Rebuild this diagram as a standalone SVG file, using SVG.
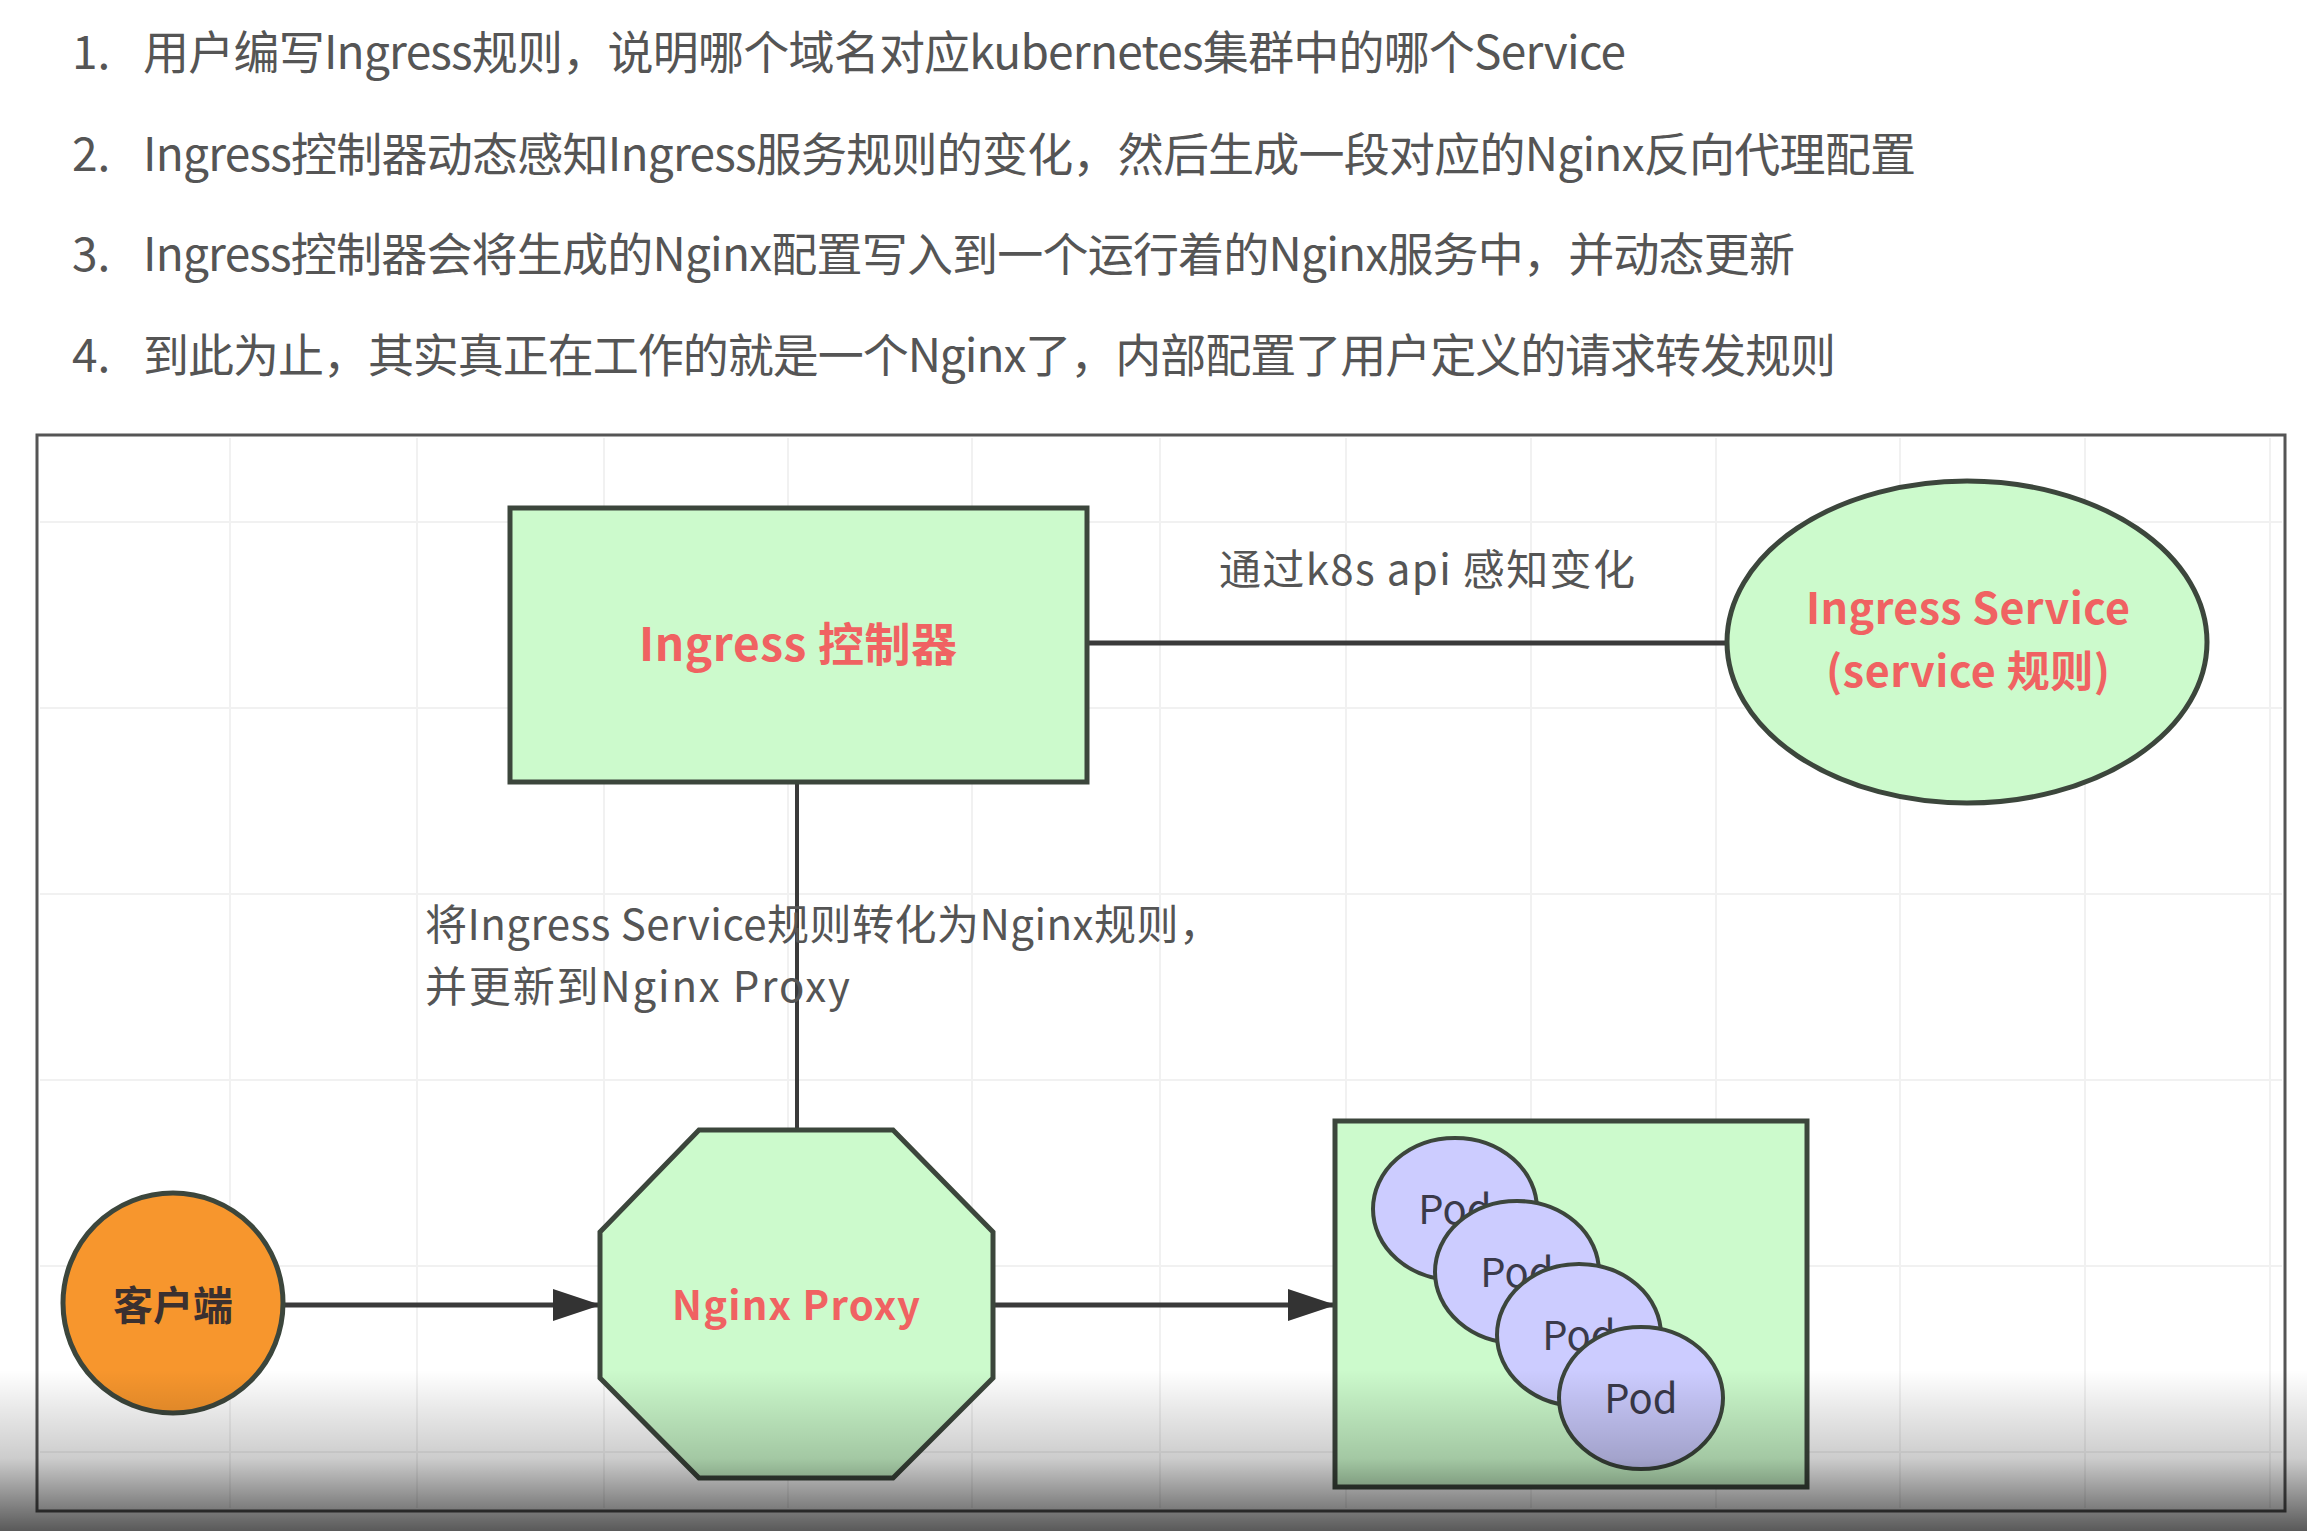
<svg xmlns="http://www.w3.org/2000/svg" width="2307" height="1531" viewBox="0 0 2307 1531">
<style>
.list{font-family:"Noto Sans CJK SC","Noto Sans",sans-serif;font-size:46px;fill:#555555}
.lbl{font-family:"Noto Sans CJK SC","Noto Sans",sans-serif;font-size:42px;fill:#555555}
.red{font-family:"Noto Sans CJK SC","Noto Sans",sans-serif;font-weight:bold;fill:#f06262;text-anchor:middle}
.node{stroke:#3c463c;stroke-width:5}
.green{fill:#ccfacc}
.pod{fill:#ccccff;stroke:#3c463c;stroke-width:4}
.podt{font-family:"Noto Sans CJK SC","Noto Sans",sans-serif;font-size:40px;fill:#3a3a4a;text-anchor:middle}
.grid{stroke:#f1f1f1;stroke-width:2}
.conn{stroke:#3a3a3a;fill:none}
</style>
<defs>
<marker id="arr" markerUnits="userSpaceOnUse" markerWidth="48" markerHeight="32" refX="46" refY="16" orient="auto">
<path d="M0,0 L48,16 L0,32 Z" fill="#333333"/>
</marker>
<linearGradient id="shade" x1="0" y1="0" x2="0" y2="1">
<stop offset="0" stop-color="#000" stop-opacity="0"/>
<stop offset="0.55" stop-color="#000" stop-opacity="0.2"/>
<stop offset="1" stop-color="#000" stop-opacity="0.65"/>
</linearGradient>
</defs>
<rect width="2307" height="1531" fill="#ffffff"/>

<g id="steps">
<text class="list" x="72" y="69">1.</text>
<text class="list" x="143" y="69" textLength="1483">用户编写Ingress规则，说明哪个域名对应kubernetes集群中的哪个Service</text>
<text class="list" x="72" y="171">2.</text>
<text class="list" x="143" y="171" textLength="1773">Ingress控制器动态感知Ingress服务规则的变化，然后生成一段对应的Nginx反向代理配置</text>
<text class="list" x="72" y="271">3.</text>
<text class="list" x="143" y="271" textLength="1652">Ingress控制器会将生成的Nginx配置写入到一个运行着的Nginx服务中，并动态更新</text>
<text class="list" x="72" y="372">4.</text>
<text class="list" x="143" y="372" textLength="1693">到此为止，其实真正在工作的就是一个Nginx了，内部配置了用户定义的请求转发规则</text>
</g>

<g id="frame">
<rect x="37" y="435" width="2248" height="1076" fill="#ffffff" stroke="#555555" stroke-width="3"/>
<g class="grid">
<line x1="230" y1="438" x2="230" y2="1508"/>
<line x1="417" y1="438" x2="417" y2="1508"/>
<line x1="604" y1="438" x2="604" y2="1508"/>
<line x1="788" y1="438" x2="788" y2="1508"/>
<line x1="972" y1="438" x2="972" y2="1508"/>
<line x1="1160" y1="438" x2="1160" y2="1508"/>
<line x1="1346" y1="438" x2="1346" y2="1508"/>
<line x1="1531" y1="438" x2="1531" y2="1508"/>
<line x1="1716" y1="438" x2="1716" y2="1508"/>
<line x1="1900" y1="438" x2="1900" y2="1508"/>
<line x1="2085" y1="438" x2="2085" y2="1508"/>
<line x1="2270" y1="438" x2="2270" y2="1508"/>
<line x1="40" y1="522" x2="2282" y2="522"/>
<line x1="40" y1="708" x2="2282" y2="708"/>
<line x1="40" y1="894" x2="2282" y2="894"/>
<line x1="40" y1="1080" x2="2282" y2="1080"/>
<line x1="40" y1="1266" x2="2282" y2="1266"/>
<line x1="40" y1="1452" x2="2282" y2="1452"/>
</g>
</g>

<g id="connectors">
<line class="conn" x1="1087" y1="643" x2="1728" y2="643" stroke-width="5"/>
<line class="conn" x1="797" y1="782" x2="797" y2="1130" stroke-width="4"/>
<line class="conn" x1="284" y1="1305" x2="599" y2="1305" stroke-width="5" marker-end="url(#arr)"/>
<line class="conn" x1="993" y1="1305" x2="1334" y2="1305" stroke-width="5" marker-end="url(#arr)"/>
<text class="lbl" x="1219" y="585" textLength="416">通过k8s api 感知变化</text>
<text class="lbl" x="425" y="940" textLength="796">将Ingress Service规则转化为Nginx规则，</text>
<text class="lbl" x="425" y="1002" textLength="425">并更新到Nginx Proxy</text>
</g>

<g id="ingress-controller">
<rect class="node green" x="510" y="508" width="577" height="274"/>
<text class="red" x="798" y="661" font-size="46" textLength="318">Ingress 控制器</text>
</g>

<g id="ingress-service">
<ellipse class="node green" cx="1967" cy="642" rx="240" ry="161"/>
<text class="red" x="1968" y="624" font-size="43" textLength="324">Ingress Service</text>
<text class="red" x="1968" y="687" font-size="43" textLength="284">(service 规则)</text>
</g>

<g id="client">
<ellipse class="node" cx="173" cy="1303" rx="110" ry="110" fill="#f7962d" stroke-width="4"/>
<text x="173" y="1320" font-family="'Noto Sans CJK SC',sans-serif" font-size="40" font-weight="bold" fill="#3a3030" text-anchor="middle">客户端</text>
</g>

<g id="nginx-proxy">
<polygon class="node green" stroke-width="4" points="699,1130 893,1130 993,1232 993,1378 893,1478 699,1478 600,1378 600,1232"/>
<text class="red" x="796" y="1320" font-size="40" textLength="248">Nginx Proxy</text>
</g>

<g id="pods">
<rect class="node green" x="1335" y="1121" width="472" height="366"/>
<ellipse class="pod" cx="1455" cy="1209" rx="82" ry="71"/>
<text class="podt" x="1455" y="1224">Pod</text>
<ellipse class="pod" cx="1517" cy="1272" rx="82" ry="71"/>
<text class="podt" x="1517" y="1287">Pod</text>
<ellipse class="pod" cx="1579" cy="1335" rx="82" ry="71"/>
<text class="podt" x="1579" y="1350">Pod</text>
<ellipse class="pod" cx="1641" cy="1398" rx="82" ry="71"/>
<text class="podt" x="1641" y="1413">Pod</text>
</g>

<rect x="0" y="1370" width="2307" height="161" fill="url(#shade)"/>
</svg>
